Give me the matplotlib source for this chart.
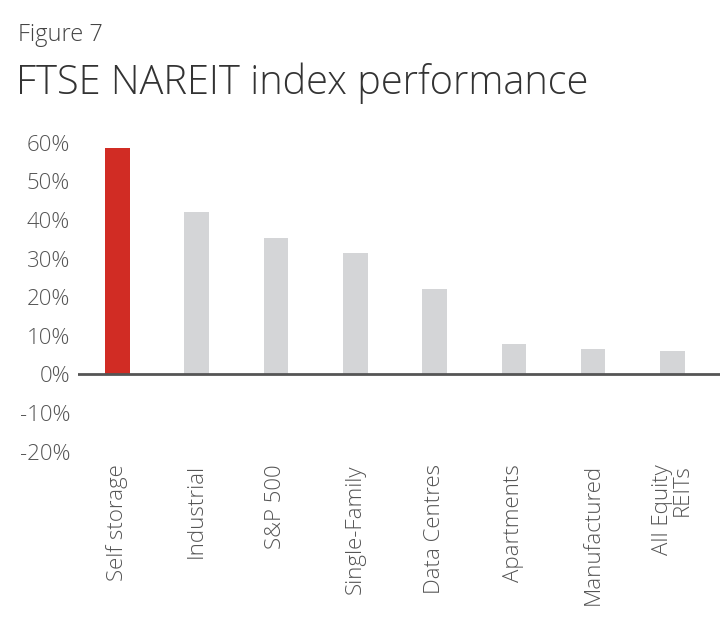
import matplotlib
matplotlib.use("Agg")
import matplotlib.pyplot as plt
from matplotlib.ticker import FuncFormatter

categories = ["Self storage", "Industrial", "S&P 500", "Single-Family", "Data Centres",
              "Apartments", "Manufactured", "All Equity\nREITs"]
values = [58.7, 42.0, 35.4, 31.4, 22.1, 8.0, 6.6, 6.1]
highlight = "Self storage"
yticks = [-20, -10, 0, 10, 20, 30, 40, 50, 60]

plt.rcParams['font.family'] = ['Open Sans', 'DejaVu Sans']

fig = plt.figure(figsize=(7.2, 6.2), dpi=100)
ax = fig.add_axes([0.109, 0.2715, 0.891, 0.4983])

colors = ["#D12C24" if c == highlight else "#D4D5D7" for c in categories]
x = list(range(len(categories)))
ax.bar(x, values, width=0.31, color=colors, zorder=2)
ax.axhline(0, color="#555555", lw=2, zorder=3)

ax.set_ylim(-20, 60)
ax.set_xlim(-0.49, 7.6)
ax.set_yticks(yticks)
ax.yaxis.set_major_formatter(FuncFormatter(lambda v, p: f"{int(v)}%"))
ax.set_xticks(x)
ax.set_xticklabels(categories, rotation=90, multialignment='right', linespacing=0.95)
for s in ax.spines.values():
    s.set_visible(False)
ax.tick_params(axis='both', length=0, labelsize=16, colors="#555555")
ax.tick_params(axis='y', pad=6)
ax.tick_params(axis='x', pad=9)
for lbl in ax.get_xticklabels() + ax.get_yticklabels():
    lbl.set_fontweight('light')

fig.text(0.025, 0.963, "Figure 7", fontsize=17, color="#444444", fontweight='light', va='top', ha='left')
fig.text(0.022, 0.900, "FTSE NAREIT index performance", fontsize=28.6, color="#333333",
         fontweight='light', va='top', ha='left')

fig.savefig("out.png", dpi=100, facecolor="white")
